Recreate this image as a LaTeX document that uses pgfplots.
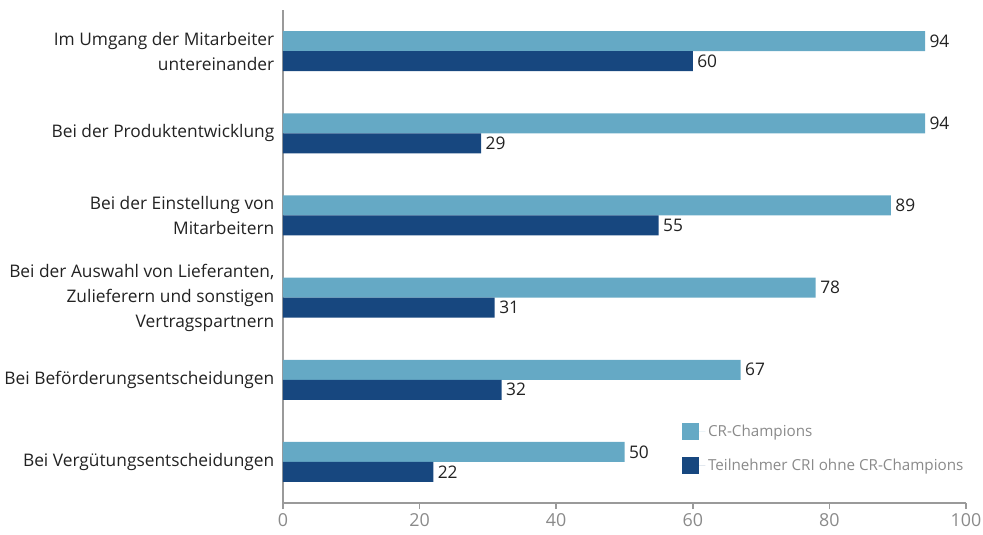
\documentclass[border=0pt]{standalone}
\usepackage{fontspec}
\setmainfont{Open Sans}
\usepackage{pgfplots}
\pgfplotsset{compat=1.18}
\definecolor{lightb}{HTML}{65A9C5}
\definecolor{darkb}{HTML}{17477F}
\definecolor{axgray}{HTML}{9A9A9A}
\definecolor{txtgray}{HTML}{8A8A8A}
\definecolor{txtdark}{HTML}{222222}
\newcommand{\lf}{\fontsize{13.0}{18.75}\selectfont}
\newcommand{\tf}{\fontsize{13.4}{16}\selectfont}
\newcommand{\legf}{\fontsize{11.4}{14}\selectfont}
\begin{document}
\begin{tikzpicture}
\useasboundingbox (0,0) rectangle (737.25pt,-401.25pt);
\begin{axis}[
  at={(212.25pt,-377.25pt)}, anchor=south west,
  scale only axis, width=512.25pt, height=369.75pt,
  xbar, bar width=15pt,
  xmin=0, xmax=100, ymin=-0.5, ymax=5.5,
  axis x line*=bottom, axis y line*=left,
  axis line style={axgray, line width=1.1pt, -},
  xtick={0,20,40,60,80,100},
  tick align=outside, major tick length=4.5pt,
  xtick style={axgray, line width=1.1pt},
  ytick={0,1,2,3,4,5},
  ytick style={draw=none},
  yticklabels={Bei Vergütungsentscheidungen, Bei Beförderungsentscheidungen, {Bei der Auswahl von Lieferanten,\\Zulieferern und sonstigen\\Vertragspartnern}, {Bei der Einstellung von\\Mitarbeitern}, Bei der Produktentwicklung, {Im Umgang der Mitarbeiter\\untereinander}},
  yticklabel style={align=right, font=\lf, text=txtdark, xshift=1.5pt},
  xticklabel style={font=\tf, text=txtgray},
  /pgf/number format/assume math mode=true,
  nodes near coords,
  nodes near coords style={font=\lf, text=txtdark, anchor=west, inner sep=3.2pt},
  legend style={at={(0.578,0.17)}, anchor=north west, draw=none, fill=none, font=\legf, text=txtgray, row sep=11.5pt},
  legend cell align=left,
  legend image code/.code={\fill[#1] (0pt,-6.4pt) rectangle (12.75pt,6.4pt); \path (0pt,0pt) -- (17.5pt,0pt);},
]
\addplot[fill=lightb, draw=none, bar shift=7.5pt] coordinates {(50,0) (67,1) (78,2) (89,3) (94,4) (94,5)};
\addplot[fill=darkb, draw=none, bar shift=-7.5pt] coordinates {(22,0) (32,1) (31,2) (55,3) (29,4) (60,5)};
\legend{CR-Champions, Teilnehmer CRI ohne CR-Champions}
\end{axis}
\end{tikzpicture}
\end{document}
